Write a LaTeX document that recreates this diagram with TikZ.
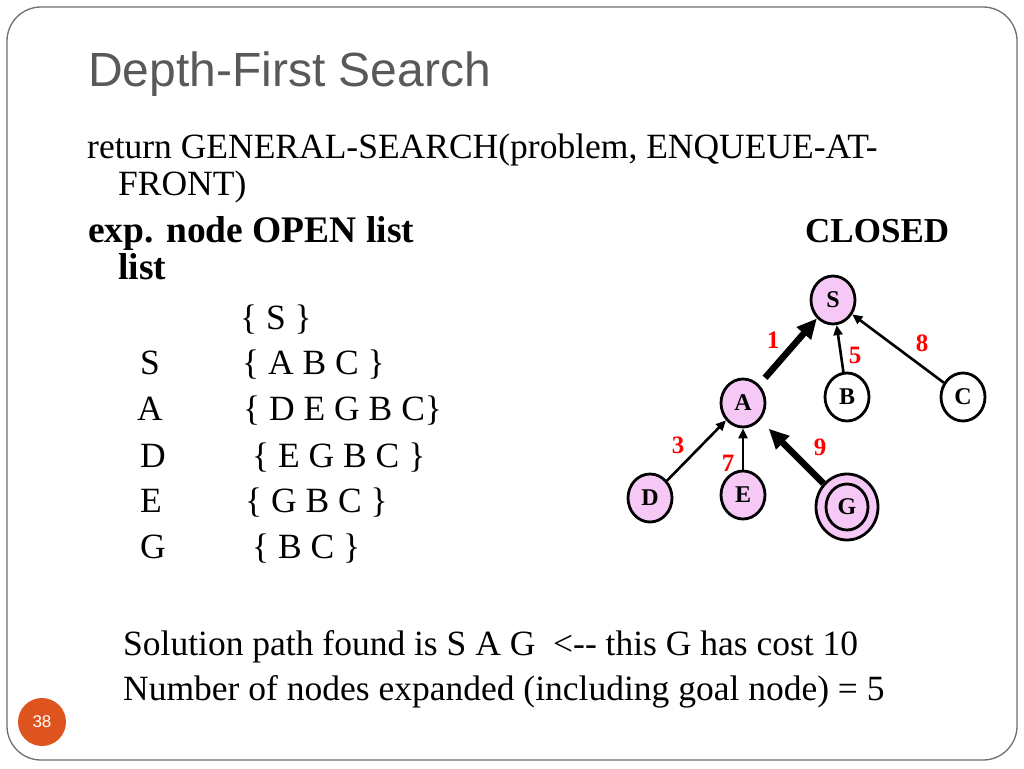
\documentclass[tikz,border=0pt]{standalone}
\usepackage{fontspec}
\setmainfont{Liberation Serif}
\newfontfamily\titlefont{Liberation Sans}
\usetikzlibrary{shapes.geometric,arrows.meta}
\definecolor{nodepink}{RGB}{246,200,246}
\definecolor{titlegray}{RGB}{89,89,89}
\definecolor{framegray}{RGB}{110,110,110}
\definecolor{pageorange}{RGB}{222,84,30}
\begin{document}
\begin{tikzpicture}[x=1pt,y=-1pt,
  body/.style={anchor=base west,inner sep=0,font=\fontsize{35.5}{40}\selectfont},
  bodybf/.style={body,font=\fontsize{37.5}{40}\selectfont\bfseries},
  tnode/.style={ellipse,draw,line width=2.8pt,fill=nodepink,minimum width=44,minimum height=48,inner sep=0,font=\fontsize{24}{24}\selectfont\bfseries},
  cost/.style={text=red,inner sep=0,font=\fontsize{25}{25}\selectfont\bfseries},
  thinarrow/.style={-{Triangle[length=10pt,width=9pt]},line width=2.6pt},
  thickarrow/.style={-{Triangle[length=20pt,width=18pt]},line width=6.5pt}]
\useasboundingbox (0,0) rectangle (1024,768);
\draw[framegray,line width=1.3pt,rounded corners=34] (7,7) rectangle (1017,760);
\node[anchor=base west,inner sep=0,text=titlegray,font=\titlefont\fontsize{48}{52}\selectfont] (title) at (88,86) {Depth-First Search};

\node[body] (call) at (87,158) {return GENERAL-SEARCH(problem, ENQUEUE-AT-};
\node[body] (call2) at (118,195) {FRONT)};
\node[bodybf] (head) at (88,242) {exp. node OPEN list};
\node[bodybf] (head2) at (118,279) {list};
\node[bodybf,font=\fontsize{35}{40}\selectfont\bfseries] (closed) at (805,242) {CLOSED};

\node[body] (open0) at (240,329) {\{ S \}};
\node[body] (exp1) at (140,374) {S};
\node[body] (open1) at (242,374) {\{ A B C \}};
\node[body] (exp2) at (137,420) {A};
\node[body] (open2) at (243,420) {\{ D E G B C\}};
\node[body] (exp3) at (140,467) {D};
\node[body] (open3) at (252,467) {\{ E G B C \}};
\node[body] (exp4) at (140,512) {E};
\node[body] (open4) at (245,512) {\{ G B C \}};
\node[body] (exp5) at (140,558) {G};
\node[body] (open5) at (252,558) {\{ B C \}};

\node[body] (sol) at (123,655) {Solution path found is S A G \ <{-}{-} this G has cost 10};
\node[body] (count) at (123,700) {Number of nodes expanded (including goal node) = 5};

\node[circle,fill=pageorange,minimum size=48,inner sep=0,text=white,font=\titlefont\fontsize{17}{17}\selectfont] (page) at (42,722) {38};

\node[tnode] (S) at (833,300) {S};
\node[tnode] (A) at (743,403) {A};
\node[tnode,fill=white] (B) at (847,397) {B};
\node[tnode,fill=white] (C) at (963,397) {C};
\node[tnode] (D) at (650,498) {D};
\node[tnode] (E) at (743,495) {E};
\node[tnode,minimum width=62,minimum height=66] (G) at (847,507) {G};
\draw[line width=2.8pt] (G.center) ellipse (21 and 23);

\draw[thickarrow,shorten <=9pt] (A) -- (S);
\draw[thinarrow] (B) -- (S);
\draw[thinarrow] (C) -- (S);
\draw[thinarrow] (D) -- (A);
\draw[thinarrow] (E) -- (A);
\draw[thickarrow,shorten >=12pt] (G) -- (A);

\node[cost] (c1) at (773,340) {1};
\node[cost] (c5) at (855,355) {5};
\node[cost] (c8) at (922,343) {8};
\node[cost] (c3) at (678,445) {3};
\node[cost] (c7) at (728,463) {7};
\node[cost] (c9) at (820,447) {9};
\end{tikzpicture}
\end{document}
